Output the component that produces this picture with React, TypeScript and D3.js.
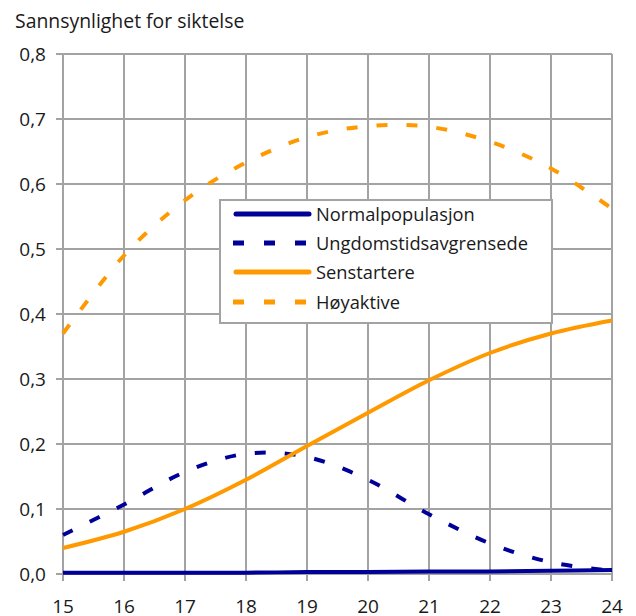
import React from "react";
import * as d3 from "d3";

const ages = [15, 16, 17, 18, 19, 20, 21, 22, 23, 24];
const normal = [0.002, 0.002, 0.002, 0.002, 0.003, 0.003, 0.004, 0.004, 0.005, 0.006];
const ungdom = [0.06, 0.107, 0.157, 0.185, 0.18, 0.145, 0.092, 0.047, 0.018, 0.005];
const senstartere = [0.04, 0.065, 0.1, 0.145, 0.197, 0.248, 0.298, 0.34, 0.37, 0.39];
const hoyaktive = [0.37, 0.49, 0.575, 0.633, 0.672, 0.689, 0.688, 0.665, 0.624, 0.562];
const yTicks = [0, 0.1, 0.2, 0.3, 0.4, 0.5, 0.6, 0.7, 0.8];
const seriesNames = ["Normalpopulasjon", "Ungdomstidsavgrensede", "Senstartere", "Høyaktive"];
const title = "Sannsynlighet for siktelse";

const NAVY = "#000099";
const ORANGE = "#ff9900";
const GRID = "#a3a3a3";
const FONT = "'Open Sans', sans-serif";

export default function App() {
  const W = 636, H = 616;
  const x = d3.scaleLinear().domain([15, 24]).range([63, 612]);
  const y = d3.scaleLinear().domain([0, 0.8]).range([574, 54]);
  const line = d3
    .line<number>()
    .x((_, i) => x(ages[i]))
    .y((d) => y(d))
    .curve(d3.curveCatmullRom.alpha(0));

  const series = [
    { name: seriesNames[0], data: normal, color: NAVY, dash: null },
    { name: seriesNames[1], data: ungdom, color: NAVY, dash: "11,19" },
    { name: seriesNames[2], data: senstartere, color: ORANGE, dash: null },
    { name: seriesNames[3], data: hoyaktive, color: ORANGE, dash: "11,19" },
  ];

  const lg = { x: 220, y: 200, w: 332, h: 123 };
  const rowY = [214, 243, 272, 302];

  return (
    <svg
      width={W}
      height={H}
      style={{ position: "absolute", left: 0, top: 0, background: "#fff" }}
      fontFamily={FONT}
    >
      <rect x={0} y={0} width={W} height={H} fill="#fff" />
      <text x={15} y={28} fontSize={19.4} fill="#1a1a1a">
        {title}
      </text>
      {/* horizontal grid + y ticks */}
      {yTicks.map((t) => (
        <g key={"y" + t}>
          <line x1={56} x2={612} y1={y(t)} y2={y(t)} stroke={GRID} strokeWidth={2} />
          <text x={46} y={y(t) + 7} fontSize={19} textAnchor="end" fill="#1a1a1a">
            {d3.format(".1f")(t).replace(".", ",")}
          </text>
        </g>
      ))}
      {/* vertical grid + x ticks */}
      {ages.map((a) => (
        <g key={"x" + a}>
          <line x1={x(a)} x2={x(a)} y1={54} y2={581} stroke={GRID} strokeWidth={2} />
          <text x={x(a)} y={613} fontSize={19} textAnchor="middle" fill="#1a1a1a">
            {a}
          </text>
        </g>
      ))}
      {series.map((s) => (
        <path
          key={s.name}
          d={line(s.data) || ""}
          fill="none"
          stroke={s.color}
          strokeWidth={4}
          strokeDasharray={s.dash || undefined}
        />
      ))}
      {/* legend */}
      <rect x={lg.x} y={lg.y} width={lg.w} height={lg.h} fill="#fff" stroke={GRID} strokeWidth={2} />
      {series.map((s, i) => (
        <g key={"lg" + s.name}>
          {s.dash ? (
            <line
              x1={233}
              x2={307}
              y1={rowY[i]}
              y2={rowY[i]}
              stroke={s.color}
              strokeWidth={5}
              strokeDasharray="11,20"
            />
          ) : (
            <line
              x1={236}
              x2={309}
              y1={rowY[i]}
              y2={rowY[i]}
              stroke={s.color}
              strokeWidth={5}
              strokeLinecap="round"
            />
          )}
          <text x={316} y={rowY[i] + 7} fontSize={18.3} fill="#1a1a1a">
            {s.name}
          </text>
        </g>
      ))}
    </svg>
  );
}
